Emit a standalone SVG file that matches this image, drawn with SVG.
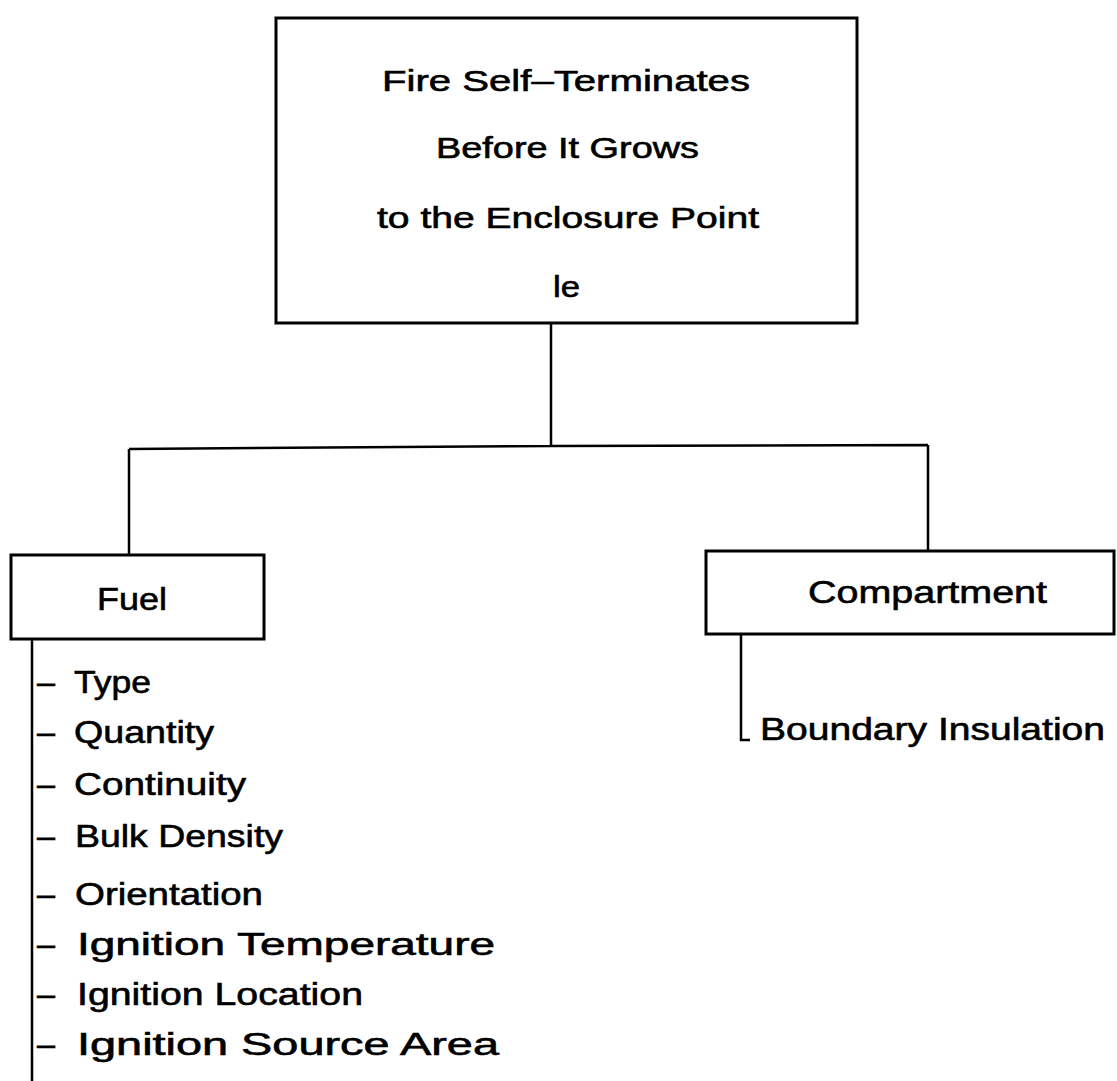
<svg xmlns="http://www.w3.org/2000/svg" width="1117" height="1081" viewBox="0 0 1117 1081">
<style>
.box{fill:#fff;stroke:#000;stroke-width:3}
.ln{fill:none;stroke:#000;stroke-width:2.5}
text{font-family:"Liberation Sans",Arial,sans-serif;fill:#000;stroke:#000;stroke-width:0.6}
.t{font-size:29px}
.l{font-size:31px}
</style>
<rect width="1117" height="1081" fill="#fff"/>
<g id="connectors">
<path class="ln" d="M551,323 V446 M129,449 L551,446 L928,445 M129,449 V555 M928,445 V551"/>
<path class="ln" d="M32,639 V1081"/>
<path class="ln" d="M741,634 V740 H750"/>
</g>
<g id="top">
<rect class="box" x="276" y="18" width="581" height="305"/>
<text class="t" x="382" y="91" textLength="368" lengthAdjust="spacingAndGlyphs">Fire Self–Terminates</text>
<text class="t" x="436" y="158" textLength="263" lengthAdjust="spacingAndGlyphs">Before It Grows</text>
<text class="t" x="377" y="228" textLength="382" lengthAdjust="spacingAndGlyphs">to the Enclosure Point</text>
<text class="t" x="553" y="297" textLength="27" lengthAdjust="spacingAndGlyphs">le</text>
</g>
<g id="fuel">
<rect class="box" x="11" y="555" width="253" height="84"/>
<text class="l" x="97" y="610" textLength="70" lengthAdjust="spacingAndGlyphs">Fuel</text>
</g>
<g id="compartment">
<rect class="box" x="706" y="551" width="408" height="83"/>
<text class="l" x="808" y="603" textLength="239" lengthAdjust="spacingAndGlyphs">Compartment</text>
</g>
<g id="fuel-items" class="l">
<text x="37" y="693"><tspan textLength="18" lengthAdjust="spacingAndGlyphs">–</tspan><tspan x="74" textLength="77" lengthAdjust="spacingAndGlyphs">Type</tspan></text>
<text x="37" y="743"><tspan textLength="18" lengthAdjust="spacingAndGlyphs">–</tspan><tspan x="74" textLength="140" lengthAdjust="spacingAndGlyphs">Quantity</tspan></text>
<text x="37" y="795"><tspan textLength="18" lengthAdjust="spacingAndGlyphs">–</tspan><tspan x="74" textLength="172" lengthAdjust="spacingAndGlyphs">Continuity</tspan></text>
<text x="37" y="847"><tspan textLength="18" lengthAdjust="spacingAndGlyphs">–</tspan><tspan x="75" textLength="208" lengthAdjust="spacingAndGlyphs">Bulk Density</tspan></text>
<text x="37" y="905"><tspan textLength="18" lengthAdjust="spacingAndGlyphs">–</tspan><tspan x="75" textLength="188" lengthAdjust="spacingAndGlyphs">Orientation</tspan></text>
<text x="37" y="955"><tspan textLength="18" lengthAdjust="spacingAndGlyphs">–</tspan><tspan x="77" textLength="418" lengthAdjust="spacingAndGlyphs">Ignition Temperature</tspan></text>
<text x="37" y="1005"><tspan textLength="18" lengthAdjust="spacingAndGlyphs">–</tspan><tspan x="77" textLength="286" lengthAdjust="spacingAndGlyphs">Ignition Location</tspan></text>
<text x="37" y="1055"><tspan textLength="18" lengthAdjust="spacingAndGlyphs">–</tspan><tspan x="77" textLength="422" lengthAdjust="spacingAndGlyphs">Ignition Source Area</tspan></text>
</g>
<g id="compartment-items">
<text class="l" x="760" y="740" textLength="345" lengthAdjust="spacingAndGlyphs">Boundary Insulation</text>
</g>
</svg>
